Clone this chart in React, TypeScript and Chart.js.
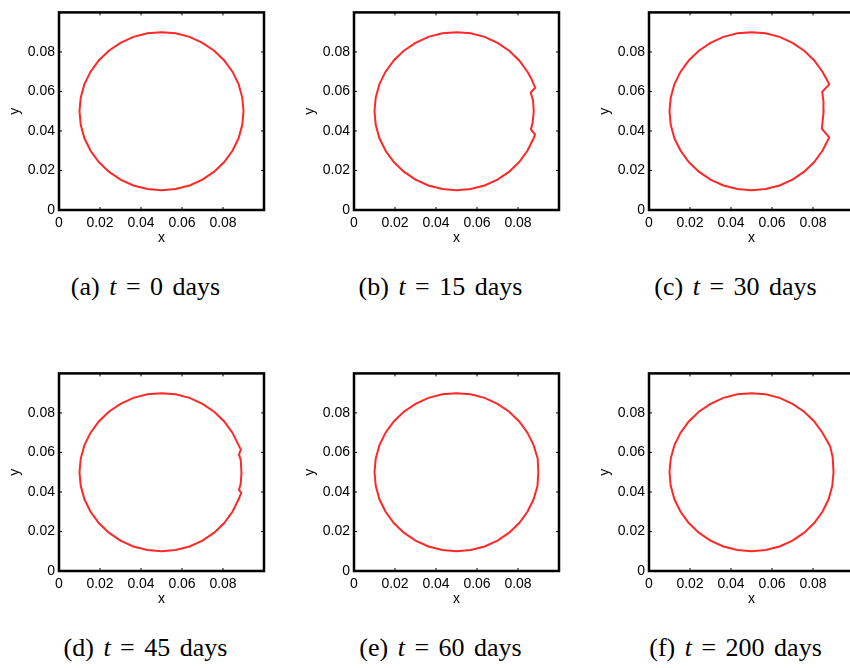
import React, { useEffect, useRef } from 'react';
import { Chart, registerables } from 'chart.js';

Chart.register(...registerables);

// Axis ticks (both axes)
const tickValues = [0, 0.02, 0.04, 0.06, 0.08];
const axisMin = 0;
const axisMax = 0.1;

// Shared (unchanged) part of the interface (from upper right, counter-clockwise, to lower right)
const arcX = [0.0806, 0.0757, 0.0700, 0.0637, 0.0569, 0.0500, 0.0431, 0.0363, 0.0300, 0.0243, 0.0194, 0.0154, 0.0124, 0.0106, 0.0100, 0.0106, 0.0124, 0.0154, 0.0194, 0.0243, 0.0300, 0.0363, 0.0431, 0.0500, 0.0569, 0.0637, 0.0700, 0.0757, 0.0806];
const arcY = [0.0757, 0.0806, 0.0846, 0.0876, 0.0894, 0.0900, 0.0894, 0.0876, 0.0846, 0.0806, 0.0757, 0.0700, 0.0637, 0.0569, 0.0500, 0.0431, 0.0363, 0.0300, 0.0243, 0.0194, 0.0154, 0.0124, 0.0106, 0.0100, 0.0106, 0.0124, 0.0154, 0.0194, 0.0243];

// Right-hand side of the interface for each time (bottom to top)
const rightXA = [0.0846, 0.0876, 0.0894, 0.0900, 0.0894, 0.0876, 0.0846];
const rightYA = [0.0300, 0.0363, 0.0431, 0.0500, 0.0569, 0.0637, 0.0700];

const rightXB = [0.0846, 0.0876, 0.0883, 0.0863, 0.0871, 0.0877, 0.0873, 0.0862, 0.0884, 0.0867, 0.0846];
const rightYB = [0.0300, 0.0363, 0.0382, 0.0408, 0.0440, 0.0500, 0.0555, 0.0594, 0.0619, 0.0660, 0.0700];

const rightXC = [0.0846, 0.0866, 0.0879, 0.0843, 0.0847, 0.0852, 0.0851, 0.0845, 0.0879, 0.0867, 0.0846];
const rightYC = [0.0300, 0.0340, 0.0368, 0.0412, 0.0450, 0.0500, 0.0550, 0.0598, 0.0636, 0.0660, 0.0700];

const rightXD = [0.0846, 0.0876, 0.0889, 0.0878, 0.0886, 0.0890, 0.0887, 0.0878, 0.0887, 0.0876, 0.0846];
const rightYD = [0.0300, 0.0363, 0.0395, 0.0411, 0.0440, 0.0493, 0.0560, 0.0590, 0.0615, 0.0637, 0.0700];

const rightXE = [0.0846, 0.0876, 0.0895, 0.0899, 0.0896, 0.0876, 0.0846];
const rightYE = [0.0300, 0.0363, 0.0430, 0.0500, 0.0570, 0.0637, 0.0700];

const rightXF = [0.0846, 0.0876, 0.0894, 0.0900, 0.0896, 0.0884, 0.0876, 0.0846];
const rightYF = [0.0300, 0.0363, 0.0431, 0.0500, 0.0575, 0.0630, 0.0645, 0.0700];

const captionLetters = ['(a)', '(b)', '(c)', '(d)', '(e)', '(f)'];
const captionTimes = ['0', '15', '30', '45', '60', '200'];
const rightXs = [rightXA, rightXB, rightXC, rightXD, rightXE, rightXF];
const rightYs = [rightYA, rightYB, rightYC, rightYD, rightYE, rightYF];

const SANS = '"Liberation Sans", Arial, Helvetica, sans-serif';
const SERIF = '"Liberation Serif", "Times New Roman", serif';

const fmt = (v: number) => (v === 0 ? '0' : Number(v).toFixed(2));

const framePlugin = {
  id: 'frame',
  afterDraw(chart: any) {
    const { ctx, chartArea, scales } = chart;
    const { left, top, right, bottom } = chartArea;
    ctx.save();
    ctx.strokeStyle = '#000';
    ctx.lineWidth = 1;
    const tl = 3;
    ctx.beginPath();
    tickValues.forEach((v) => {
      const px = scales.x.getPixelForValue(v);
      const py = scales.y.getPixelForValue(v);
      ctx.moveTo(px, bottom);
      ctx.lineTo(px, bottom - tl);
      ctx.moveTo(px, top);
      ctx.lineTo(px, top + tl);
      ctx.moveTo(left, py);
      ctx.lineTo(left + tl, py);
      ctx.moveTo(right, py);
      ctx.lineTo(right - tl, py);
    });
    ctx.stroke();
    ctx.lineWidth = 2.5;
    ctx.strokeRect(left, top, right - left, bottom - top);
    ctx.restore();
  },
};

function Panel({ xs, ys, left, top }: { xs: number[]; ys: number[]; left: number; top: number }) {
  const ref = useRef<HTMLCanvasElement>(null);
  useEffect(() => {
    const pts = xs.map((x, i) => ({ x, y: ys[i] }))
      .concat(arcX.map((x, i) => ({ x, y: arcY[i] })))
      .concat([{ x: xs[0], y: ys[0] }]);
    const tickFont = { family: SANS, size: 14 };
    const chart = new Chart(ref.current as HTMLCanvasElement, {
      type: 'scatter',
      data: {
        datasets: [
          {
            data: pts,
            showLine: true,
            borderColor: 'rgb(255,40,40)',
            backgroundColor: 'rgb(255,40,40)',
            borderWidth: 2,
            pointRadius: 0,
            tension: 0,
            fill: false,
          } as any,
        ],
      },
      options: {
        animation: false,
        responsive: false,
        devicePixelRatio: 1,
        events: [],
        layout: { padding: { top: 5, right: 10, left: 0, bottom: 0 } },
        plugins: { legend: { display: false }, tooltip: { enabled: false } },
        scales: {
          x: {
            type: 'linear',
            min: axisMin,
            max: axisMax,
            grid: { display: false, drawTicks: false },
            border: { display: false },
            afterBuildTicks: (s: any) => {
              s.ticks = tickValues.map((v) => ({ value: v }));
            },
            afterFit: (s: any) => {
              s.height = 40;
            },
            ticks: {
              padding: 5,
              color: '#000',
              font: tickFont,
              maxRotation: 0,
              autoSkip: false,
              callback: (v: any) => fmt(Number(v)),
            },
            title: { display: true, text: 'x', color: '#000', font: tickFont, padding: { top: 0, bottom: 3 } },
          },
          y: {
            type: 'linear',
            min: axisMin,
            max: axisMax,
            grid: { display: false, drawTicks: false },
            border: { display: false },
            afterBuildTicks: (s: any) => {
              s.ticks = tickValues.map((v) => ({ value: v }));
            },
            afterFit: (s: any) => {
              s.width = 59;
            },
            ticks: {
              padding: 4,
              color: '#000',
              font: tickFont,
              autoSkip: false,
              callback: (v: any) => fmt(Number(v)),
            },
            title: { display: true, text: 'y', color: '#000', font: tickFont, padding: { top: 7, bottom: 0 } },
          },
        },
      } as any,
      plugins: [framePlugin],
    });
    return () => chart.destroy();
  }, [xs, ys]);
  return (
    <canvas
      ref={ref}
      width={274}
      height={250}
      style={{ position: 'absolute', left, top, width: 274, height: 250 }}
    />
  );
}

export default function App() {
  return (
    <div
      style={{
        position: 'absolute',
        left: 0,
        top: 0,
        width: 850,
        height: 668,
        overflow: 'hidden',
        background: '#fff',
      }}
    >
      {captionLetters.map((letter, i) => {
        const col = i % 3;
        const row = Math.floor(i / 3);
        const boxLeft = 59 + col * 295;
        const boxTop = 5 + row * 361;
        const capCenter = 145.5 + col * 295;
        const capMid = 287 + row * 361;
        return (
          <React.Fragment key={letter}>
            <Panel xs={rightXs[i]} ys={rightYs[i]} left={boxLeft - 59} top={boxTop - 5} />
            <div
              style={{
                position: 'absolute',
                left: capCenter - 150,
                width: 300,
                top: capMid - 14,
                height: 28,
                lineHeight: '28px',
                textAlign: 'center',
                fontFamily: SERIF,
                fontSize: 26,
                color: '#000',
                wordSpacing: 3,
                whiteSpace: 'nowrap',
              }}
            >
              {letter} <i>t</i> = {captionTimes[i]} days
            </div>
          </React.Fragment>
        );
      })}
    </div>
  );
}
